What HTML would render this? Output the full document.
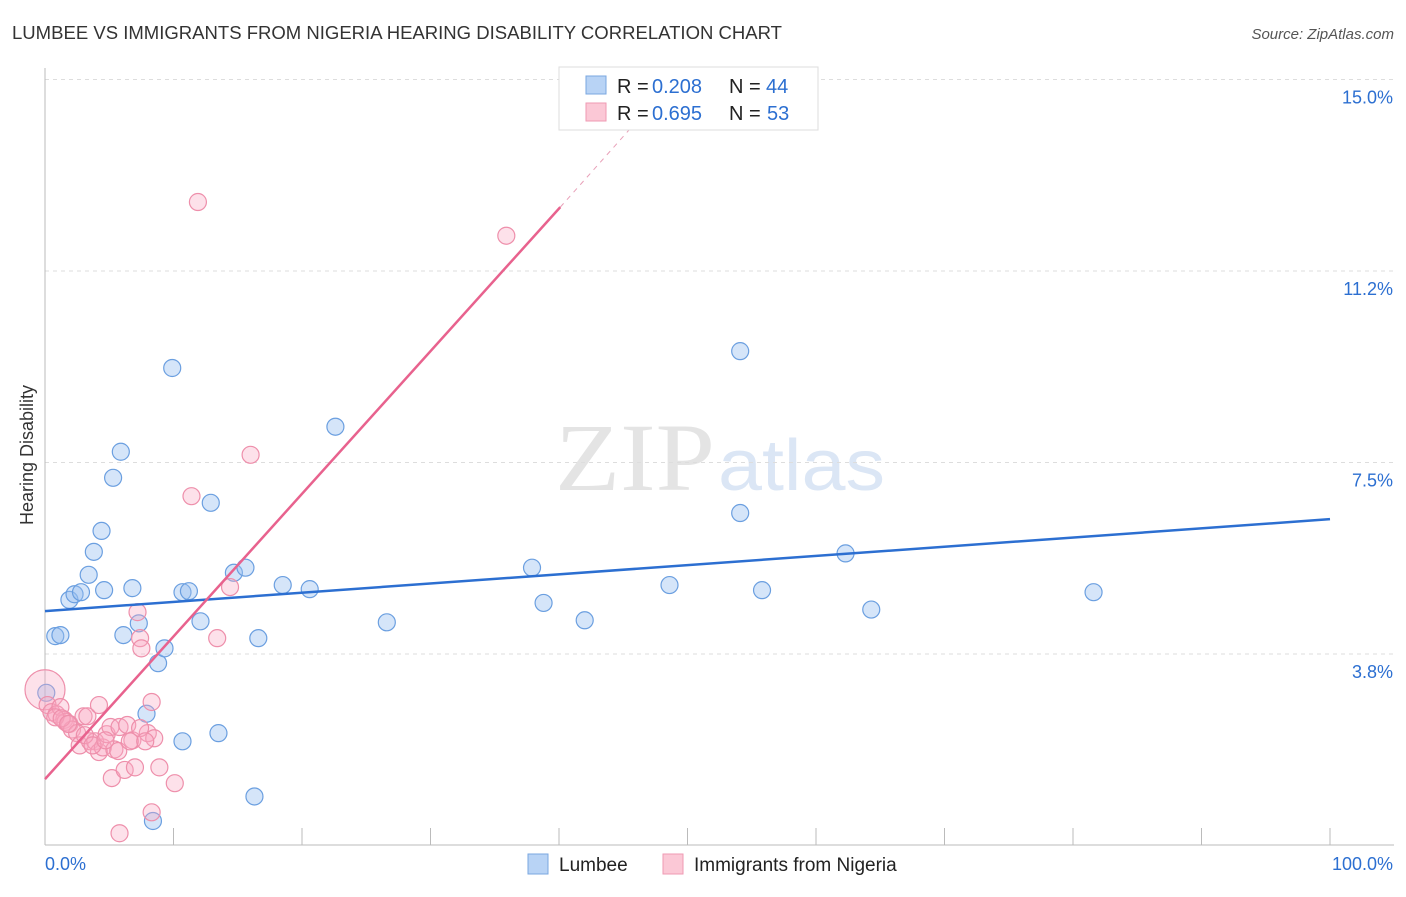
<!DOCTYPE html><html><head><meta charset="utf-8"><style>
body{margin:0;background:#fff;font-family:"Liberation Sans",sans-serif}
</style></head><body>
<svg id="c" width="1406" height="892" xmlns="http://www.w3.org/2000/svg">
<text x="12" y="39" font-size="18" fill="#333" textLength="770" lengthAdjust="spacingAndGlyphs">LUMBEE VS IMMIGRANTS FROM NIGERIA HEARING DISABILITY CORRELATION CHART</text>
<text x="1394" y="39" font-size="15" fill="#555" font-style="italic" text-anchor="end">Source: ZipAtlas.com</text>
<text x="555" y="490" font-size="96" fill="#e4e4e4" font-family="Liberation Serif" textLength="160" lengthAdjust="spacingAndGlyphs">ZIP</text>
<text x="718" y="490" font-size="72" fill="#dbe6f5" textLength="167" lengthAdjust="spacingAndGlyphs">atlas</text>
<text transform="translate(33,455) rotate(-90)" font-size="18" fill="#333" text-anchor="middle">Hearing Disability</text>
<g id="axes"></g><g id="pts"></g><g id="lines"></g>
<rect x="559" y="67" width="259" height="63" fill="#fff" stroke="#ddd"/>
<rect x="586" y="76" width="20" height="18" fill="#b8d3f5" stroke="#7aa7e0"/>
<rect x="586" y="103" width="20" height="18" fill="#fbc8d6" stroke="#ef9ab3"/>
<g font-size="20">
<text x="617" y="93" fill="#222">R =</text><text x="652" y="93" fill="#2c6fd1">0.208</text>
<text x="729" y="93" fill="#222">N =</text><text x="766" y="93" fill="#2c6fd1">44</text>
<text x="617" y="120" fill="#222">R =</text><text x="652" y="120" fill="#2c6fd1">0.695</text>
<text x="729" y="120" fill="#222">N =</text><text x="767" y="120" fill="#2c6fd1">53</text>
</g>
<rect x="528" y="854" width="20" height="20" fill="#b8d3f5" stroke="#7aa7e0"/>
<text x="559" y="871" font-size="19" fill="#222">Lumbee</text>
<rect x="663" y="854" width="20" height="20" fill="#fbc8d6" stroke="#ef9ab3"/>
<text x="694" y="871" font-size="19" fill="#222">Immigrants from Nigeria</text>
</svg>
<script>
const yTicks=[15.0,11.25,7.5,3.75];
const yTickLabels=["15.0%","11.2%","7.5%","3.8%"];
const xTickLabels=["0.0%","100.0%"];
const lumbeeX=[0.1,0.8,1.2,1.9,2.3,2.8,3.4,3.8,4.4,4.6,5.3,5.9,6.1,6.8,7.3,7.9,8.4,8.8,9.3,9.9,10.7,10.7,11.2,12.1,12.9,13.5,14.7,15.6,16.3,16.6,18.5,20.6,22.6,26.6,37.9,38.8,42.0,48.6,54.1,54.1,55.8,62.3,64.3,81.6];
const lumbeeY=[2.99,4.1,4.12,4.81,4.92,4.96,5.3,5.75,6.16,5.0,7.2,7.71,4.12,5.04,4.35,2.58,0.48,3.57,3.86,9.35,2.04,4.96,4.98,4.39,6.71,2.2,5.34,5.44,0.96,4.06,5.1,5.02,8.2,4.37,5.44,4.75,4.41,5.1,9.68,6.51,5.0,5.72,4.62,4.96];
const nigX=[0.0,0.2,0.5,0.9,1.2,1.5,1.6,1.9,2.1,2.5,2.7,3.0,3.3,3.5,3.9,4.2,4.2,4.5,4.8,5.1,5.2,5.4,5.7,5.8,6.2,6.4,6.8,7.0,7.2,7.4,7.5,8.0,8.3,8.3,8.5,8.9,10.1,5.8,11.4,11.9,13.4,14.4,16.0,35.9,0.8,1.3,1.8,3.1,3.7,4.7,6.6,7.4,7.8];
const nigY=[3.05,2.75,2.61,2.57,2.71,2.46,2.42,2.38,2.27,2.2,1.96,2.53,2.53,2.04,2.04,1.83,2.75,1.92,2.18,2.32,1.32,1.88,1.85,2.32,1.48,2.36,2.06,1.53,4.57,4.06,3.86,2.2,2.81,0.65,2.1,1.53,1.22,0.24,6.84,12.6,4.06,5.06,7.65,11.94,2.51,2.49,2.38,2.16,1.96,2.06,2.04,2.3,2.04];
const nigSize=[20];
const lumbeeLine=[4.59,6.39];
const nigLine=[1.30,12.5,14.25];
const nigLineX=[0,40.1,46.3];
const NS="http://www.w3.org/2000/svg";
const X=v=>45+v*12.85, Y=v=>845.5-v*51.07;
function mk(t,a,p){const e=document.createElementNS(NS,t);for(const k in a)e.setAttribute(k,a[k]);document.getElementById(p).appendChild(e);return e;}
yTicks.forEach((t,i)=>{
 const l=mk('line',{x1:45,x2:1394,y1:Y(t),y2:Y(t),stroke:'#ddd','stroke-dasharray':'4,4'},'axes');
 
 
 const tx=mk('text',{x:1393,y:Y(t)+24,'font-size':18,fill:'#2c6fd1','text-anchor':'end'},'axes');tx.textContent=yTickLabels[i];
 
 
});
const ax=mk('line',{x1:45,x2:45,y1:68,y2:845,stroke:'#bbb'},'axes');


const bx=mk('line',{x1:45,x2:1394,y1:845,y2:845,stroke:'#bbb'},'axes');


for(let i=1;i<=10;i++){const t=mk('line',{x1:X(i*10),x2:X(i*10),y1:828,y2:845,stroke:'#bbb'},'axes');
 
 }
[[0,'start',45],[1,'end',1393]].forEach(([i,a,x])=>{const t=mk('text',{x:x,y:870,'font-size':18,fill:'#2c6fd1','text-anchor':a},'axes');t.textContent=xTickLabels[i];
 
 });
lumbeeX.forEach((v,i)=>{const c=mk('circle',{cx:X(v),cy:Y(lumbeeY[i]),r:8.5,fill:'rgba(150,190,240,0.4)',stroke:'#6b9fe0','stroke-width':1.2},'pts');
 
 });
nigX.forEach((v,i)=>{const c=mk('circle',{cx:X(v),cy:Y(nigY[i]),r:i==0?nigSize[0]:8.5,fill:'rgba(248,170,195,0.35)',stroke:'#ee8fab','stroke-width':1.2},'pts');
 
 });
const bl=mk('line',{x1:X(0),y1:Y(lumbeeLine[0]),x2:X(100),y2:Y(lumbeeLine[1]),stroke:'#2c6fd1','stroke-width':2.5},'lines');


const pl=mk('line',{x1:X(nigLineX[0]),y1:Y(nigLine[0]),x2:X(nigLineX[1]),y2:Y(nigLine[1]),stroke:'#e8628e','stroke-width':2.5},'lines');


const pd=mk('line',{x1:X(nigLineX[1]),y1:Y(nigLine[1]),x2:X(nigLineX[2]),y2:Y(nigLine[2]),stroke:'#e8a0b8','stroke-width':1,'stroke-dasharray':'5,5'},'lines');


</script></body></html>
